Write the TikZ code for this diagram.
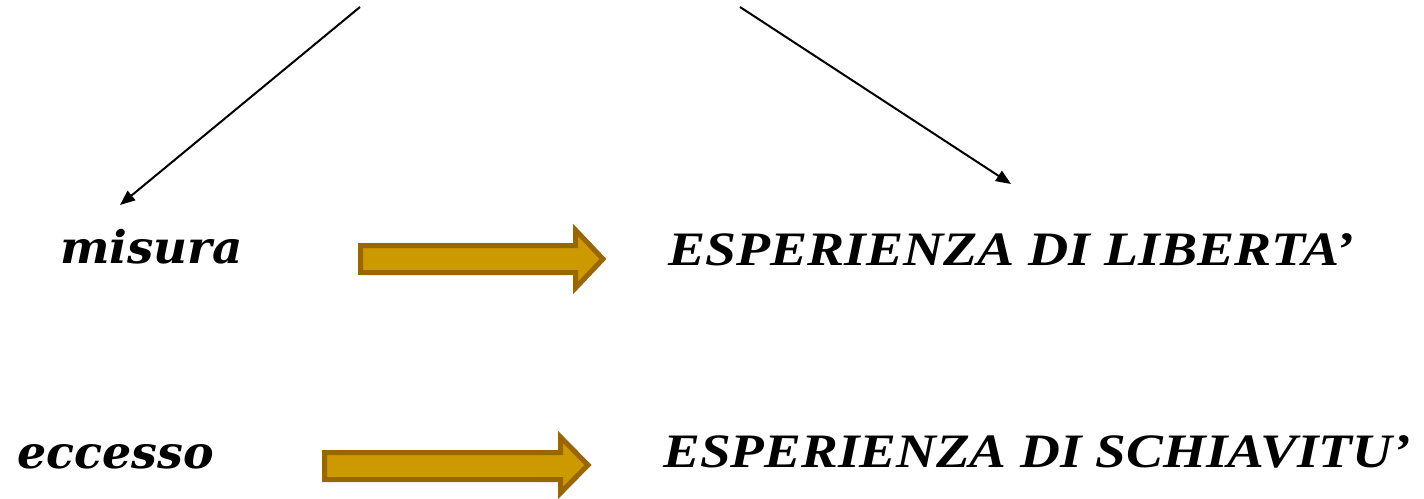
\documentclass[tikz,border=0pt]{standalone}
\usepackage{fontspec}
\setmainfont{Liberation Serif}
\newfontfamily\dvserif{DejaVu Serif}
\usetikzlibrary{arrows.meta}
\definecolor{arrfill}{HTML}{CC9900}
\definecolor{arrline}{HTML}{996600}
\begin{document}
\begin{tikzpicture}[x=1pt,y=-1pt,
  lbl/.style={inner sep=0pt,anchor=base west,font=\fontsize{48}{56}\selectfont\bfseries\itshape},
  lblb/.style={inner sep=0pt,anchor=base west,font=\fontsize{45}{52}\selectfont\dvserif\bfseries\itshape},
  conn/.style={line width=2pt,-{Triangle[length=15pt,width=12pt]}},
  fat/.style={fill=arrfill,draw=arrline,line width=5pt,line join=miter}]
\useasboundingbox (0,0) rectangle (1424,498);
% sources and targets of the thin connectors
\coordinate (s1) at (360,7);
\coordinate (t1) at (120,205);
\coordinate (s2) at (740,7);
\coordinate (t2) at (1011,184);
\draw[conn] (s1) -- (t1);
\draw[conn] (s2) -- (t2);
% labels
\node[lblb] (mis) at (60,263) {\scalebox{1.04}[1]{misura}};
\node[lblb] (ecc) at (17,468) {\scalebox{1.02}[1]{eccesso}};
\node[lbl] (lib) at (668,265) {\scalebox{1.16}[1]{ESPERIENZA DI LIBERTA'}};
\node[lbl] (sch) at (663,467) {\scalebox{1.15}[1]{ESPERIENZA DI SCHIAVITU'}};
% block arrows
\draw[fat] (360.5,245.5) -- (575.5,245.5) -- (575.5,230) -- (603,259) -- (575.5,288) -- (575.5,272.5) -- (360.5,272.5) -- cycle;
\draw[fat] (324.5,452.5) -- (560.5,452.5) -- (560.5,437) -- (588,465) -- (560.5,493) -- (560.5,479.5) -- (324.5,479.5) -- cycle;
\end{tikzpicture}
\end{document}
